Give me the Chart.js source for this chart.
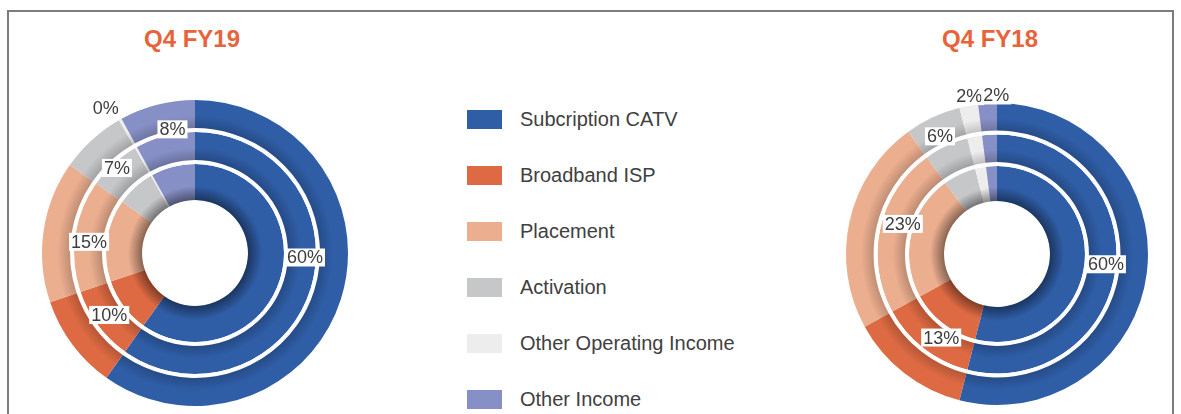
<!DOCTYPE html>
<html>
<head>
<meta charset="utf-8">
<script src="https://cdn.jsdelivr.net/npm/chart.js@4.4.1/dist/chart.umd.min.js"></script>
<style>
  html, body { margin: 0; padding: 0; background: #fff; }
  body { width: 1181px; height: 414px; position: relative; overflow: hidden; font-family: "Liberation Sans", Arial, sans-serif; }
  .frame { position: absolute; left: 7px; top: 10px; width: 1163px; height: 420px; border: 2px solid #7d7d7d; }
  .title { position: absolute; top: 27px; width: 200px; text-align: center; color: #E8633A; font-weight: bold; font-size: 24px; line-height: 24px; }
  canvas { position: absolute; }
  .item { position: absolute; left: 467px; height: 20px; display: flex; align-items: center; white-space: nowrap; }
  .sw { width: 35px; height: 19px; margin-right: 18px; }
  .item span { font-size: 20px; color: #404040; }
</style>
</head>
<body>
<div class="frame"></div>
<div class="title" style="left:92px">Q4 FY19</div>
<div class="title" style="left:890px">Q4 FY18</div>
<div id="legend"></div>
<canvas id="fy19" width="400" height="364" style="left:0;top:50px"></canvas>
<canvas id="fy18" width="391" height="364" style="left:790px;top:50px"></canvas>
<script>
const categories = ["Subcription CATV", "Broadband ISP", "Placement", "Activation", "Other Operating Income", "Other Income"];
const colors = ["#2F5DA6", "#DE6A43", "#EBAE8F", "#C6C7C9", "#EDEDED", "#8790C6"];

const fy19Values = [60, 10, 15, 7, 0.3, 8];
const fy19Labels = ["60%", "10%", "15%", "7%", "0%", "8%"];
const fy18Values = [54, 13, 23, 6, 2, 2];
const fy18Labels = ["60%", "13%", "23%", "6%", "2%", "2%"];

// label nudges (px) away from the middle-ring centre, as placed in the original
const fy19Nudge = [[8, -28], [0, -2], [0, 4], [-6, -6], [-37, -52], [4, -20]];
const fy18Nudge = [[4, -3], [9, 0], [9, -7], [-12, -22], [-8, -54], [6, -53]];

// legend
const legend = document.getElementById("legend");
categories.forEach((c, i) => {
  const d = document.createElement("div");
  d.className = "item";
  d.style.top = (109 + i * 56) + "px";
  d.innerHTML = `<div class="sw" style="background:${colors[i]}"></div><span>${c}</span>`;
  legend.appendChild(d);
});

const ringShade = {
  id: "ringShade",
  afterDatasetsDraw(chart) {
    const ctx = chart.ctx;
    [[0, 0.18], [2, 0.2], [4, 0.42]].forEach(([di, a]) => {
      const arc = chart.getDatasetMeta(di).data[0];
      if (!arc) return;
      const { x, y, innerRadius, outerRadius } = arc;
      const band = Math.min(14, (outerRadius - innerRadius) * 0.45);
      const g = ctx.createRadialGradient(x, y, innerRadius, x, y, innerRadius + band);
      g.addColorStop(0, `rgba(0,0,0,${a})`);
      g.addColorStop(1, "rgba(0,0,0,0)");
      ctx.save();
      ctx.beginPath();
      ctx.arc(x, y, innerRadius + band, 0, Math.PI * 2);
      ctx.arc(x, y, innerRadius, 0, Math.PI * 2, true);
      ctx.fillStyle = g;
      ctx.fill();
      ctx.restore();
    });
  }
};

const ringLabels = {
  id: "ringLabels",
  afterDatasetsDraw(chart, args, opts) {
    const meta = chart.getDatasetMeta(opts.ring);
    const ctx = chart.ctx;
    ctx.save();
    ctx.font = '18px "Liberation Sans", Arial, sans-serif';
    ctx.textAlign = "center";
    ctx.textBaseline = "middle";
    meta.data.forEach((arc, i) => {
      const { x, y, startAngle, endAngle, innerRadius, outerRadius } = arc;
      const mid = (startAngle + endAngle) / 2, r = (innerRadius + outerRadius) / 2;
      const px = x + Math.cos(mid) * r + opts.nudge[i][0];
      const py = y + Math.sin(mid) * r + opts.nudge[i][1];
      const t = opts.labels[i];
      const w = ctx.measureText(t).width + 4;
      ctx.fillStyle = "#fff";
      ctx.fillRect(px - w / 2, py - 9, w, 18);
      ctx.fillStyle = "#3d3d3d";
      ctx.fillText(t, px, py + 1);
    });
    ctx.restore();
  }
};

function ring(values, weight) {
  return { data: values, backgroundColor: colors, weight, borderWidth: 0, hoverBorderWidth: 0, hoverOffset: 0, offset: 0 };
}
function gap(weight) {
  return { data: [1], backgroundColor: ["#ffffff"], weight, borderWidth: 0, hoverBorderWidth: 0, hoverOffset: 0, offset: 0 };
}

function makeChart(id, values, labels, nudge, weights, padding) {
  return new Chart(document.getElementById(id), {
    type: "doughnut",
    data: {
      labels: categories,
      datasets: [ring(values, weights[0]), gap(weights[1]), ring(values, weights[2]), gap(weights[3]), ring(values, weights[4])]
    },
    options: {
      responsive: false,
      animation: false,
      events: [],
      cutout: 53,
      layout: { padding },
      plugins: {
        legend: { display: false },
        tooltip: { enabled: false },
        ringLabels: { ring: 2, labels, nudge }
      }
    },
    plugins: [ringShade, ringLabels]
  });
}

makeChart("fy19", fy19Values, fy19Labels, fy19Nudge, [28, 4, 28, 4, 36], { left: 42, top: 50, right: 52, bottom: 8 });
makeChart("fy18", fy18Values, fy18Labels, fy18Nudge, [27.5, 4, 27.5, 4, 35], { left: 56, top: 53, right: 33, bottom: 9 });
</script>
</body>
</html>
